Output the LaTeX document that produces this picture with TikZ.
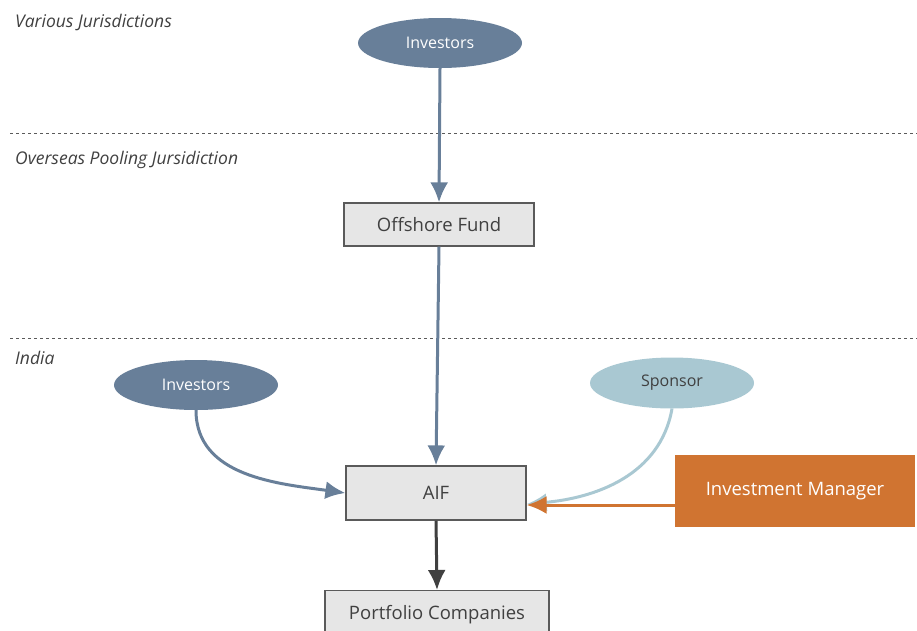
\documentclass[tikz,border=0pt]{standalone}
\usepackage{fontspec}
\setmainfont{Open Sans}
\usetikzlibrary{shapes.geometric}
\usetikzlibrary{arrows.meta}
\definecolor{slate}{HTML}{687F99}
\definecolor{skyblue}{HTML}{A9C8D2}
\definecolor{rust}{HTML}{D07431}
\definecolor{boxgray}{HTML}{E6E6E6}
\definecolor{edgegray}{HTML}{5A5A5A}
\definecolor{textgray}{HTML}{404040}
\tikzset{party/.style={ellipse, minimum width=164pt, minimum height=50pt, inner sep=0pt, font=\fontsize{16}{18}\selectfont}}
\tikzset{entity/.style={rectangle, draw=edgegray, line width=1.2pt, fill=boxgray, text=textgray, inner sep=0pt, font=\fontsize{18.5}{21}\selectfont}}
\tikzset{zone/.style={anchor=base west, inner sep=0pt, text=textgray, font=\fontsize{17.5}{20}\selectfont\itshape}}
\tikzset{feed/.style={-{Latex[length=20pt, width=18pt]}, line width=3pt}}

\begin{document}
\begin{tikzpicture}[x=1pt, y=-1pt]
    \useasboundingbox (0, 0) rectangle (917, 630);
    % jurisdiction bands
    \draw[dashed, edgegray, line width=.9pt](10, 133)--(917, 133);
    \draw[dashed, edgegray, line width=.9pt](10, 338)--(917, 338);
    \node[zone] (various) at (15, 27) {Various Jurisdictions};
    \node[zone] (overseas) at (15, 164) {Overseas Pooling Jursidiction};
    \node[zone] (india) at (15, 364) {India};
    % parties
    \node[party, fill=slate, text=white] (topinv) at (440, 43) {Investors};
    \node[party, fill=slate, text=white] (inv) at (196, 385) {Investors};
    \node[party, fill=skyblue, text=textgray, minimum height=51pt] (sponsor) at (672, 383) {Sponsor};
    \node[rectangle, fill=rust, text=white, minimum width=240pt, minimum height=72pt, font=\fontsize{18.5}{21}\selectfont] (manager) at (795, 491) {Investment Manager};
    % funds
    \node[entity, minimum width=190pt, minimum height=43pt] (offshore) at (439, 224.5) {Offshore Fund};
    \node[entity, minimum width=180pt, minimum height=54pt] (aif) at (436, 493) {AIF};
    \node[entity, minimum width=224pt, minimum height=50pt, anchor=north] (portfolio) at (437, 590) {};
    \node[text=textgray, font=\fontsize{18.5}{21}\selectfont] (portlabel) at (437, 615) {Portfolio Companies};
    % flows
    \draw[feed, slate](topinv.south)--(offshore.north);
    \draw[feed, slate](offshore.south)--(aif.north);
    \draw[feed, slate](inv.south) to[out=-90, in=172] (aif.west);
    \draw[feed, skyblue](sponsor.south) to[out=-100, in=5] ([yshift=-11pt]aif.east);
    \draw[feed, rust](manager.west|-{(0, 505)}) coordinate (imout) -- (aif.east|-imout);
    \draw[feed, textgray](aif.south)--(portfolio.north);
\end{tikzpicture}
\end{document}
